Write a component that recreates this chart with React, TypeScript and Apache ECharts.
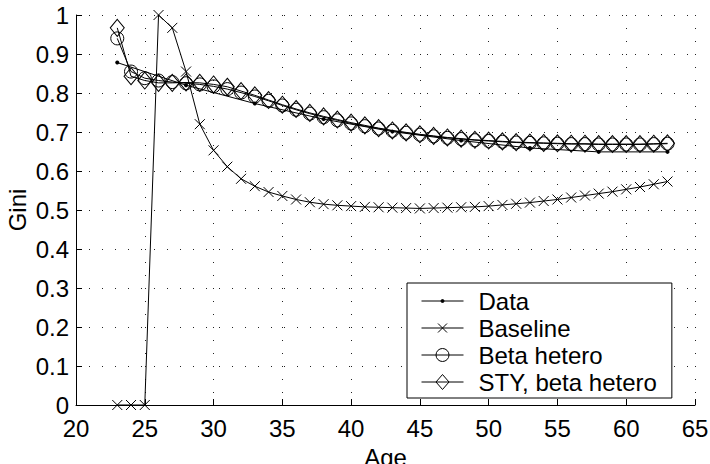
import React, { useEffect, useRef } from "react";
import * as echarts from "echarts";

const ages: number[] = [
  23, 24, 25, 26, 27, 28, 29, 30, 31, 32, 33, 34, 35, 36, 37, 38, 39, 40, 41, 42, 43,
  44, 45, 46, 47, 48, 49, 50, 51, 52, 53, 54, 55, 56, 57, 58, 59, 60, 61, 62, 63,
];

const dataAges: number[] = [23, 28, 33, 38, 43, 48, 53, 58, 63];
const dataValues: number[] = [0.878, 0.82, 0.773, 0.733, 0.701, 0.678, 0.659, 0.649, 0.649];

const baselineValues: number[] = [
  0, 0, 0, 1.0, 0.967, 0.855, 0.72, 0.653, 0.611, 0.58, 0.561, 0.546, 0.536, 0.527,
  0.52, 0.515, 0.512, 0.51, 0.508, 0.507, 0.506, 0.505, 0.504, 0.505, 0.506, 0.507,
  0.508, 0.51, 0.513, 0.516, 0.519, 0.523, 0.527, 0.532, 0.537, 0.542, 0.547, 0.553,
  0.559, 0.566, 0.573,
];

const betaValues: number[] = [
  0.94, 0.855, 0.838, 0.832, 0.828, 0.825, 0.822, 0.817, 0.81, 0.801, 0.791, 0.78,
  0.768, 0.757, 0.747, 0.738, 0.73, 0.722, 0.715, 0.709, 0.703, 0.698, 0.693, 0.689,
  0.685, 0.682, 0.679, 0.677, 0.675, 0.673, 0.672, 0.671, 0.67, 0.669, 0.669, 0.668,
  0.668, 0.668, 0.668, 0.669, 0.67,
];

const styValues: number[] = [
  0.967, 0.843, 0.832, 0.826, 0.826, 0.827, 0.826, 0.822, 0.816, 0.805, 0.794, 0.782,
  0.77, 0.759, 0.749, 0.74, 0.732, 0.724, 0.717, 0.71, 0.704, 0.699, 0.694, 0.69,
  0.686, 0.683, 0.68, 0.678, 0.676, 0.674, 0.673, 0.672, 0.671, 0.67, 0.67, 0.669,
  0.669, 0.669, 0.669, 0.67, 0.671,
];

const seriesNames: string[] = ["Data", "Baseline", "Beta hetero", "STY, beta hetero"];

const FONT = "'Liberation Sans', Arial, Helvetica, sans-serif";
const FS = 24;

const pair = (xs: number[], ys: number[]) => xs.map((x, i) => [x, ys[i]]);

export default function App() {
  const ref = useRef<HTMLDivElement>(null);

  useEffect(() => {
    document.body.style.margin = "0";
    if (!ref.current) return;
    const chart = echarts.init(ref.current, undefined, { renderer: "svg" });

    const lineStyle = { color: "#000", width: 1 };
    const hollow = { color: "transparent", borderColor: "#000", borderWidth: 1 };

    chart.setOption({
      animation: false,
      backgroundColor: "#fff",
      textStyle: { fontFamily: FONT },
      grid: {
        left: 76,
        right: 15,
        top: 15,
        bottom: 59,
        containLabel: false,
        outerBoundsMode: "none",
      },
      xAxis: {
        type: "value",
        min: 20,
        max: 65,
        interval: 5,
        name: "Age",
        nameLocation: "middle",
        nameGap: 40,
        nameTextStyle: { fontSize: FS, color: "#000", fontFamily: FONT },
        axisLine: { show: true, onZero: false, lineStyle: { color: "#000", width: 1 } },
        axisTick: { show: true, inside: true, length: 6, lineStyle: { color: "#000" } },
        axisLabel: { fontSize: FS, color: "#000", margin: 11, fontFamily: FONT },
        splitLine: { show: true, lineStyle: { type: [1, 12], color: "#222", width: 1 } },
      },
      yAxis: {
        type: "value",
        min: 0,
        max: 1,
        interval: 0.1,
        name: "Gini",
        nameLocation: "middle",
        nameGap: 47,
        nameMoveOverlap: false,
        nameTextStyle: { fontSize: FS, color: "#000", fontFamily: FONT },
        axisLine: { show: true, onZero: false, lineStyle: { color: "#000", width: 1 } },
        axisTick: { show: true, inside: true, length: 6, lineStyle: { color: "#000" } },
        axisLabel: { fontSize: FS, color: "#000", margin: 7, fontFamily: FONT },
        splitLine: { show: true, lineStyle: { type: [1, 12], color: "#222", width: 1 } },
      },
      legend: {
        orient: "vertical",
        left: 407,
        top: 283,
        padding: [6, 15, 4, 14],
        itemWidth: 42,
        itemHeight: 17,
        itemGap: 3,
        backgroundColor: "#fff",
        borderColor: "#000",
        borderWidth: 1,
        borderRadius: 0,
        itemStyle: { color: "transparent", borderColor: "#000", borderWidth: 1 },
        textStyle: { fontSize: FS, color: "#000", fontFamily: FONT, padding: [0, 0, 0, 10] },
        data: [
          {
            name: seriesNames[0],
            icon: "path://M0,8.5L42,8.5M21,7A1.5,1.5,0,1,1,21,10A1.5,1.5,0,1,1,21,7Z",
            itemStyle: { color: "#000", borderColor: "#000", borderWidth: 1 },
          },
          { name: seriesNames[1], icon: "path://M0,8.5L42,8.5M16.5,4L25.5,13M25.5,4L16.5,13" },
          {
            name: seriesNames[2],
            icon: "path://M0,8.5L42,8.5M27.5,8.5A6.5,6.5,0,1,1,14.5,8.5A6.5,6.5,0,1,1,27.5,8.5Z",
          },
          { name: seriesNames[3], icon: "path://M0,8.5L42,8.5M21,1L27.5,8.5L21,16L14.5,8.5Z" },
        ],
      },
      series: [
        {
          name: seriesNames[0],
          type: "line",
          data: pair(dataAges, dataValues),
          symbol: "circle",
          symbolSize: 4,
          itemStyle: { color: "#000" },
          lineStyle,
        },
        {
          name: seriesNames[1],
          type: "line",
          data: pair(ages, baselineValues),
          symbol: "path://M0,0L10,10M10,0L0,10",
          symbolSize: 10,
          itemStyle: hollow,
          lineStyle,
        },
        {
          name: seriesNames[2],
          type: "line",
          data: pair(ages, betaValues),
          symbol: "circle",
          symbolSize: 13,
          itemStyle: hollow,
          lineStyle,
        },
        {
          name: seriesNames[3],
          type: "line",
          data: pair(ages, styValues),
          symbol: "diamond",
          symbolSize: [14, 17],
          itemStyle: hollow,
          lineStyle,
        },
      ],
    });

    return () => chart.dispose();
  }, []);

  return <div ref={ref} style={{ width: 710, height: 464 }} />;
}
